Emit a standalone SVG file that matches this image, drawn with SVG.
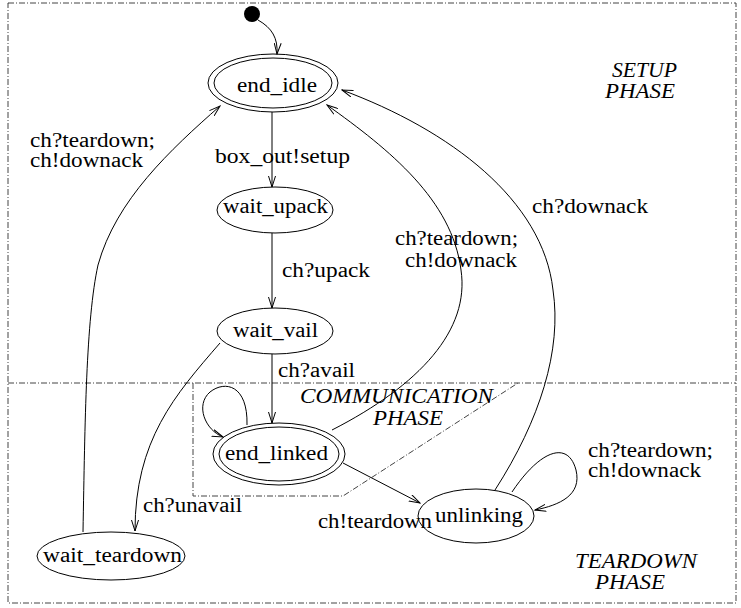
<svg xmlns="http://www.w3.org/2000/svg" width="741" height="608" viewBox="0 0 741 608" font-family="'Liberation Serif', 'DejaVu Serif', serif">
<style>
text{font-family:'Liberation Serif','DejaVu Serif',serif;font-size:20px;fill:#000}
.it{font-style:italic}
.st{fill:none;stroke:#000;stroke-width:1}
.fr{fill:none;stroke:#444;stroke-width:1;stroke-dasharray:6,2,1,2}
.e{fill:none;stroke:#000;stroke-width:1;marker-end:url(#a)}
</style>
<defs>
<marker id="a" markerWidth="12" markerHeight="8" refX="11" refY="4" orient="auto" markerUnits="userSpaceOnUse">
<path d="M0,0.5 L11,4 L0,7.5" fill="none" stroke="#000" stroke-width="1"/>
</marker>
</defs>
<rect width="741" height="608" fill="#fff"/>
<g id="frames">
<rect class="fr" x="8" y="3" width="728" height="600"/>
<line class="fr" x1="8" y1="383" x2="736" y2="383"/>
<polyline class="fr" points="193,383 193,496 343,496 518,383"/>
</g>
<g id="phases">
<text class="it" x="612" y="77" textLength="65" lengthAdjust="spacingAndGlyphs">SETUP</text>
<text class="it" x="605" y="98" textLength="70" lengthAdjust="spacingAndGlyphs">PHASE</text>
<text class="it" x="300" y="403" textLength="193" lengthAdjust="spacingAndGlyphs">COMMUNICATION</text>
<text class="it" x="373" y="425" textLength="70" lengthAdjust="spacingAndGlyphs">PHASE</text>
<text class="it" x="575" y="568" textLength="122" lengthAdjust="spacingAndGlyphs">TEARDOWN</text>
<text class="it" x="595" y="589" textLength="70" lengthAdjust="spacingAndGlyphs">PHASE</text>
</g>
<g id="init"><circle cx="252" cy="14" r="8" fill="#000"/></g>
<g id="end_idle">
<ellipse class="st" cx="273" cy="83" rx="65" ry="29"/>
<ellipse class="st" cx="273" cy="83" rx="59" ry="25"/>
<text x="237" y="92" textLength="80" lengthAdjust="spacingAndGlyphs">end_idle</text>
</g>
<g id="wait_upack">
<ellipse class="st" cx="275" cy="210" rx="58" ry="23"/>
<text x="223" y="213" textLength="105" lengthAdjust="spacingAndGlyphs">wait_upack</text>
</g>
<g id="wait_vail">
<ellipse class="st" cx="275" cy="331" rx="58" ry="23"/>
<text x="233" y="337" textLength="85" lengthAdjust="spacingAndGlyphs">wait_vail</text>
</g>
<g id="end_linked">
<ellipse class="st" cx="279" cy="454" rx="66" ry="31"/>
<ellipse class="st" cx="279" cy="454" rx="60" ry="27"/>
<text x="225" y="460" textLength="103" lengthAdjust="spacingAndGlyphs">end_linked</text>
</g>
<g id="wait_teardown">
<ellipse class="st" cx="111" cy="556" rx="74" ry="24"/>
<text x="43" y="562" textLength="139" lengthAdjust="spacingAndGlyphs">wait_teardown</text>
</g>
<g id="unlinking">
<ellipse class="st" cx="476" cy="516" rx="58" ry="27"/>
<text x="435" y="522" textLength="88" lengthAdjust="spacingAndGlyphs">unlinking</text>
</g>
<g id="connectors">
<path class="e" d="M258,20 C 272,28 278,38 277,54"/>
<path class="e" d="M272,112 L272,187"/>
<path class="e" d="M272,233 L272,308"/>
<path class="e" d="M272,354 L272,423"/>
<path class="e" d="M220,343 C 175,395 135,440 135,531"/>
<path class="e" d="M83,532 C 85,420 86,320 98,265 C 116,200 170,150 220,106"/>
<path class="e" d="M332,430 C 420,385 470,330 461,270 C 452,200 390,150 327,105"/>
<path class="e" d="M495,490 C 540,420 562,350 553,290 C 543,200 450,130 342,90"/>
<path class="e" d="M343,463 L420,503"/>
<path class="e" d="M247,425 C 248,385 225,380 210,392 C 195,405 205,430 223,437"/>
<path class="e" d="M512,492 C 540,450 568,440 576,470 C 582,495 560,505 535,510"/>
</g>
<g id="labels">
<text x="215" y="163" textLength="135" lengthAdjust="spacingAndGlyphs">box_out!setup</text>
<text x="282" y="277" textLength="88" lengthAdjust="spacingAndGlyphs">ch?upack</text>
<text x="278" y="377" textLength="77" lengthAdjust="spacingAndGlyphs">ch?avail</text>
<text x="143" y="512" textLength="99" lengthAdjust="spacingAndGlyphs">ch?unavail</text>
<text x="30" y="147" textLength="125" lengthAdjust="spacingAndGlyphs">ch?teardown;</text>
<text x="30" y="167" textLength="113" lengthAdjust="spacingAndGlyphs">ch!downack</text>
<text x="395" y="245" textLength="123" lengthAdjust="spacingAndGlyphs">ch?teardown;</text>
<text x="405" y="267" textLength="112" lengthAdjust="spacingAndGlyphs">ch!downack</text>
<text x="532" y="213" textLength="116" lengthAdjust="spacingAndGlyphs">ch?downack</text>
<text x="318" y="528" textLength="114" lengthAdjust="spacingAndGlyphs">ch!teardown</text>
<text x="588" y="457" textLength="125" lengthAdjust="spacingAndGlyphs">ch?teardown;</text>
<text x="588" y="477" textLength="113" lengthAdjust="spacingAndGlyphs">ch!downack</text>
</g>
</svg>
